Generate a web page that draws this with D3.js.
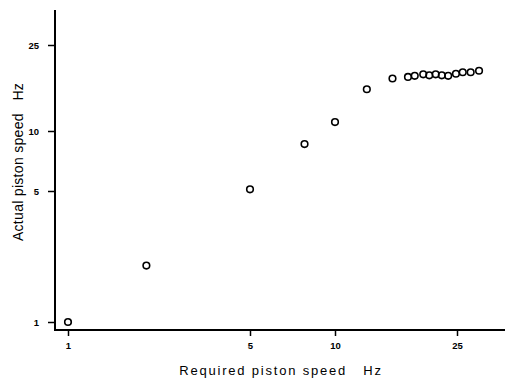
<!DOCTYPE html>
<html>
<head>
<meta charset="utf-8">
<script src="https://cdn.jsdelivr.net/npm/d3@7"></script>
<style>
  body { margin: 0; background: #fff; }
  svg { display: block; font-family: "Liberation Sans", Arial, sans-serif; }
</style>
</head>
<body>
<svg width="505" height="379"></svg>
<script>
// required vs actual piston speed (Hz)
const required = [1, 2, 5, 7.8, 10, 12.7, 15.4, 17.3, 18.2, 19.4, 20.3, 21.3, 22.3, 23.4, 24.8, 26.1, 27.7, 29.5]
const actual   = [1, 2, 5.1, 8.6, 11, 15.6, 17.5, 17.8, 18.0, 18.3, 18.1, 18.3, 18.1, 18.0, 18.4, 18.7, 18.7, 19.0]
const tickVals = [1, 5, 10, 25]

const svg = d3.select("svg")
const frame = {left: 55, top: 10, bottom: 330, right: 505}

// the scanned axes are a little stretched, so pin each tick where it sits
var x = d3.scaleLog().domain(tickVals).range([68, 250, 335, 457])
var y = d3.scaleLog().domain(tickVals).range([322, 191, 131, 45])

svg.append("g")
	.attr("transform", `translate(0,${frame.bottom})`)
	.call(d3.axisBottom(x).tickValues(tickVals).tickSize(6).tickPadding(6).tickFormat(d3.format("d")))
svg.append("g")
	.attr("transform", `translate(${frame.left},0)`)
	.call(d3.axisLeft(y).tickValues(tickVals).tickSize(7).tickPadding(9).tickFormat(d3.format("d")))

svg.selectAll(".domain").remove()
svg.selectAll(".tick line").attr("stroke", "#000").attr("stroke-width", 1.5)
svg.selectAll(".tick text")
	.attr("fill", "#000")
	.style("font-size", "9.5px")
	.style("font-weight", "bold")

svg.append("line")
	.attr("x1", frame.left).attr("x2", frame.left)
	.attr("y1", frame.top).attr("y2", frame.bottom + 1)
	.attr("stroke", "#000").attr("stroke-width", 2)
svg.append("line")
	.attr("x1", frame.left - 1).attr("x2", frame.right)
	.attr("y1", frame.bottom).attr("y2", frame.bottom)
	.attr("stroke", "#000").attr("stroke-width", 2)

svg.selectAll("circle.pt")
	.data(required.map((r, i) => ({r: r, a: actual[i]})))
	.enter()
	.append("circle")
	.attr("class", "pt")
	.attr("cx", d => x(d.r))
	.attr("cy", d => y(d.a))
	.attr("r", 3.3)
	.attr("fill", "none")
	.attr("stroke", "#000")
	.attr("stroke-width", 1.6)

svg.append("text")
	.attr("x", 281)
	.attr("y", 375)
	.attr("text-anchor", "middle")
	.style("font-size", "13px")
	.style("letter-spacing", "1.8px")
	.attr("xml:space", "preserve")
	.text("Required piston speed   Hz")

svg.append("text")
	.attr("transform", "translate(23,162) rotate(-90)")
	.attr("text-anchor", "middle")
	.style("font-size", "14px")
	.style("letter-spacing", "0.3px")
	.attr("xml:space", "preserve")
	.text("Actual piston speed   Hz")
</script>
</body>
</html>
